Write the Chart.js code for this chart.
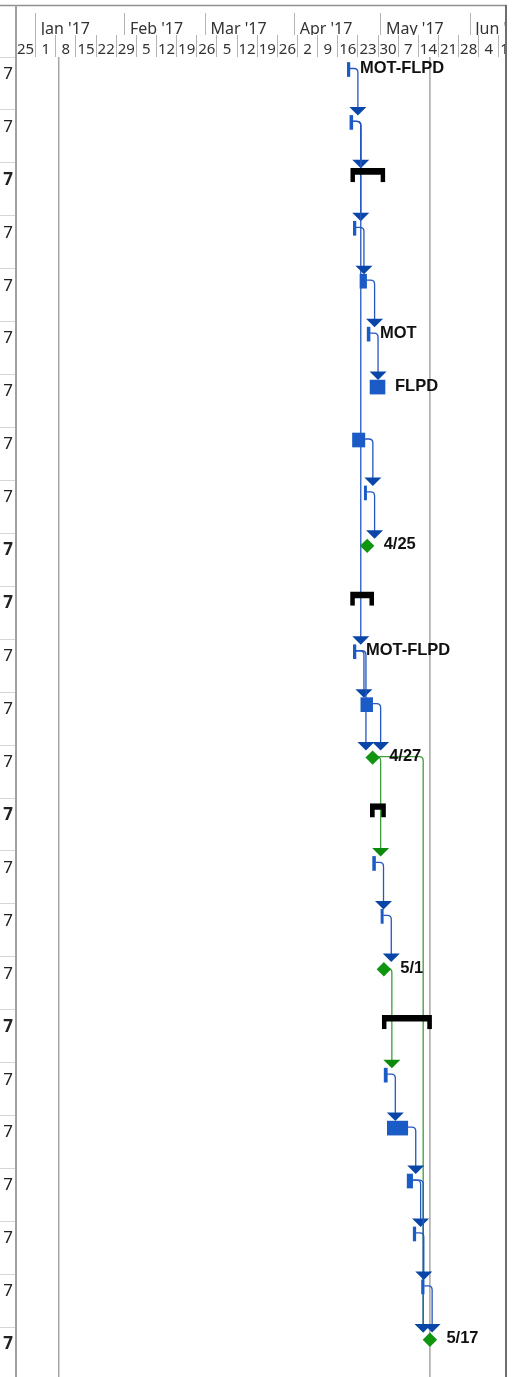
<!DOCTYPE html>
<html>
<head>
<meta charset="utf-8">
<script src="https://cdn.jsdelivr.net/npm/chart.js@4.4.0/dist/chart.umd.min.js"></script>
<style>
  html, body { margin: 0; padding: 0; background: #fff; }
  canvas { display: block; }
</style>
</head>
<body>
<canvas id="ganttChart" width="519" height="1377"></canvas>
<script>
// all days are counted from Sun 1 Jan 2017 (day 0)
const weekDays = [-7, 0, 7, 14, 21, 28, 35, 42, 49, 56, 63, 70, 77, 84, 91, 98, 105, 112, 119, 126, 133, 140, 147, 154, 161];
const weekLabels = ['25', '1', '8', '15', '22', '29', '5', '12', '19', '26', '5', '12', '19', '26', '2', '9', '16', '23', '30', '7', '14', '21', '28', '4', '11'];
const monthDays = [0, 31, 59, 90, 120, 151];
const monthLabels = ["Jan '17", "Feb '17", "Mar '17", "Apr '17", "May '17", "Jun '17"];

// cut-off finish column on the left
const rowTail = ['7', '7', '7', '7', '7', '7', '7', '7', '7', '7', '7', '7', '7', '7', '7', '7', '7', '7', '7', '7', '7', '7', '7', '7', '7'];
const boldRows = [2, 9, 10, 14, 18, 24];

const taskRows   = [0, 1, 3, 4, 5, 6, 7, 8, 11, 12, 15, 16, 19, 20, 21, 22, 23];
const taskStart  = [108.3, 109.2, 110.4, 112.7, 115.2, 116.2, 110.1, 114.2, 110.4, 113.0, 117.1, 120.0, 121.1, 122.2, 129.1, 131.2, 134.1];
const taskFinish = [109.2, 110.2, 111.3, 115.0, 116.2, 121.4, 114.4, 115.0, 111.3, 117.1, 118.1, 120.8, 122.2, 129.3, 131.0, 132.1, 135.0];

const summaryRows   = [2, 10, 14, 18];
const summaryStart  = [109.45, 109.4, 116.3, 120.4];
const summaryFinish = [121.4, 117.5, 121.6, 137.6];

const milestoneRows = [9, 13, 17, 24];
const milestoneDay  = [115.2, 117.1, 121.0, 137.0];

const noteRows = [0, 5, 6, 9, 11, 13, 17, 24];
const noteText = ['MOT-FLPD', 'MOT', 'FLPD', '4/25', 'MOT-FLPD', '4/27', '5/1', '5/17'];

const blueLinks = [[0, 1], [1, 2], [1, 3], [1, 11], [3, 4], [4, 5], [5, 6], [7, 8], [8, 9],
                   [11, 12], [11, 13], [12, 13], [15, 16], [16, 17], [19, 20], [20, 21],
                   [21, 22], [21, 24], [22, 23], [23, 24]];
const greenLinks = [[13, 15], [13, 24], [17, 19]];

const markerDays = [8, 137];

// layout of the rows in pixels
const ROW_PX = 52.93;
const BAR_TOP_PX = 12.5;
const rowShift = BAR_TOP_PX / ROW_PX;
const DIAMOND = 7.2;

const taskData = taskRows.map((r, i) => ({ x: [taskStart[i], taskFinish[i]], y: r }));
const summaryData = summaryRows.map((r, i) => ({ x: [summaryStart[i], summaryFinish[i]], y: r }));
const milestoneData = milestoneRows.map((r, i) => ({ x: milestoneDay[i], y: r }));

function finishPx(xs, row) {
    let i = taskRows.indexOf(row);
    if (i >= 0) return xs.getPixelForValue(taskFinish[i]);
    i = milestoneRows.indexOf(row);
    if (i >= 0) return xs.getPixelForValue(milestoneDay[i]);
    i = summaryRows.indexOf(row);
    return xs.getPixelForValue(summaryFinish[i]);
}

function startPx(xs, row) {
    let i = taskRows.indexOf(row);
    if (i >= 0) return xs.getPixelForValue(taskStart[i]);
    i = milestoneRows.indexOf(row);
    if (i >= 0) return xs.getPixelForValue(milestoneDay[i]) - 6.7;
    i = summaryRows.indexOf(row);
    return xs.getPixelForValue(summaryStart[i]);
}

function topPx(ys, row) {
    const c = ys.getPixelForValue(row);
    return milestoneRows.includes(row) ? c - DIAMOND : c - 7;
}

function drawLink(ctx, xs, ys, link, lineColor, headColor) {
    const [from, to] = link;
    const x0 = finishPx(xs, from);
    const y0 = ys.getPixelForValue(from) - 1;
    const lx = Math.max(x0 + 8, startPx(xs, to));
    const yTip = topPx(ys, to);
    const r = 4;
    ctx.strokeStyle = lineColor;
    ctx.lineWidth = 1.3;
    ctx.beginPath();
    ctx.moveTo(x0, y0);
    ctx.lineTo(lx - r, y0);
    ctx.quadraticCurveTo(lx, y0, lx, y0 + r);
    ctx.lineTo(lx, yTip - 6);
    ctx.stroke();
    ctx.fillStyle = headColor;
    ctx.beginPath();
    ctx.moveTo(lx - 8.5, yTip - 8.5);
    ctx.lineTo(lx + 8.5, yTip - 8.5);
    ctx.lineTo(lx, yTip);
    ctx.closePath();
    ctx.fill();
}

// axis boxes must not reserve room for half labels
function noPad(s) {
    s.paddingTop = 0;
    s.paddingBottom = 0;
    s.paddingLeft = 0;
    s.paddingRight = 0;
}

const ganttDecor = {
    id: 'ganttDecor',
    beforeDatasetsDraw(chart) {
        const { ctx, chartArea, scales: { x, y } } = chart;
        ctx.save();
        ctx.strokeStyle = '#a6a6a6';
        ctx.lineWidth = 1.5;
        markerDays.forEach(d => {
            const px = x.getPixelForValue(d);
            ctx.beginPath();
            ctx.moveTo(px, chartArea.top);
            ctx.lineTo(px, chartArea.bottom);
            ctx.stroke();
        });
        greenLinks.forEach(l => drawLink(ctx, x, y, l, '#3c9e3c', '#0c8a0c'));
        blueLinks.forEach(l => drawLink(ctx, x, y, l, '#2557c0', '#0a46a8'));
        ctx.restore();
    },
    afterDatasetsDraw(chart) {
        const { ctx, scales: { x, y } } = chart;
        ctx.save();
        ctx.font = 'bold 16.5px "Liberation Sans", Arial, sans-serif';
        ctx.fillStyle = '#111';
        ctx.textBaseline = 'middle';
        ctx.textAlign = 'left';
        noteRows.forEach((r, i) => {
            const m = milestoneRows.indexOf(r);
            const px = m >= 0 ? x.getPixelForValue(milestoneDay[m]) + 16.5 : finishPx(x, r) + 10;
            ctx.fillText(noteText[i], px, y.getPixelForValue(r) - 1);
        });
        ctx.restore();
    },
    afterDraw(chart) {
        const { ctx, chartArea } = chart;
        ctx.save();
        ctx.fillStyle = '#fff';
        ctx.fillRect(chartArea.right, 0, chart.width - chartArea.right, chartArea.top);
        ctx.strokeStyle = '#909090';
        ctx.lineWidth = 1.5;
        ctx.beginPath();
        ctx.moveTo(0, 5.5);
        ctx.lineTo(chartArea.right, 5.5);
        ctx.stroke();
        ctx.strokeStyle = '#a0a0a0';
        ctx.lineWidth = 2;
        ctx.beginPath();
        ctx.moveTo(chartArea.left, 5);
        ctx.lineTo(chartArea.left, chart.height);
        ctx.stroke();
        ctx.strokeStyle = '#6e6e6e';
        ctx.beginPath();
        ctx.moveTo(chartArea.right - 1, 5);
        ctx.lineTo(chartArea.right - 1, chart.height);
        ctx.stroke();
        ctx.restore();
    }
};

const headerFont = 'Noto Sans';

new Chart(document.getElementById('ganttChart').getContext('2d'), {
    type: 'bar',
    data: {
        datasets: [
            {
                label: 'Summary',
                data: summaryData,
                backgroundColor: 'rgba(0,0,0,0)',
                borderColor: '#000',
                borderWidth: { top: 6, left: 4, right: 4, bottom: 0 },
                borderSkipped: false,
                barThickness: 14,
                grouped: false
            },
            {
                label: 'Tasks',
                data: taskData,
                backgroundColor: '#1b5bc5',
                borderWidth: 0,
                barThickness: 14,
                grouped: false
            },
            {
                type: 'scatter',
                label: 'Milestones',
                data: milestoneData,
                pointStyle: 'rectRot',
                pointRadius: DIAMOND,
                backgroundColor: '#0f950f',
                borderWidth: 0
            }
        ]
    },
    options: {
        indexAxis: 'y',
        responsive: false,
        animation: false,
        devicePixelRatio: 1,
        events: [],
        layout: { autoPadding: false, padding: { top: 5, right: 12, left: 0, bottom: 0 } },
        plugins: {
            legend: { display: false },
            tooltip: { enabled: false }
        },
        scales: {
            x: {
                type: 'linear',
                position: 'top',
                offset: false,
                min: -6.85,
                max: 163.8,
                weight: 0,
                afterBuildTicks: (s) => { s.ticks = weekDays.map(v => ({ value: v })); },
                afterFit: (s) => { s.height = 22; noPad(s); },
                grid: { drawOnChartArea: false, offset: false, tickLength: 22, color: '#b4b4b4' },
                border: { display: false },
                ticks: {
                    autoSkip: false,
                    maxRotation: 0,
                    minRotation: 0,
                    labelOffset: 10,
                    padding: -23.5,
                    color: '#333',
                    font: { family: headerFont, size: 15 },
                    callback: (v, i) => weekLabels[i]
                }
            },
            xMonth: {
                type: 'linear',
                position: 'top',
                offset: false,
                min: -6.85,
                max: 163.8,
                weight: 1,
                afterBuildTicks: (s) => { s.ticks = monthDays.map(v => ({ value: v })); },
                afterFit: (s) => { s.height = 30; noPad(s); },
                grid: { drawOnChartArea: false, offset: false, tickLength: 22, color: '#b4b4b4' },
                border: { display: false },
                ticks: {
                    autoSkip: false,
                    maxRotation: 0,
                    minRotation: 0,
                    align: 'start',
                    labelOffset: 5,
                    padding: -25.6,
                    color: '#333',
                    font: { family: headerFont, size: 16 },
                    callback: (v, i) => monthLabels[i]
                }
            },
            y: {
                type: 'linear',
                reverse: true,
                offset: false,
                min: -rowShift,
                max: (1377 - 57) / ROW_PX - rowShift,
                afterBuildTicks: (s) => { s.ticks = rowTail.map((t, i) => ({ value: i - rowShift })); },
                afterFit: (s) => { s.width = 16; noPad(s); },
                grid: { drawOnChartArea: false, offset: false, tickLength: 16, color: '#d6d6d6' },
                border: { display: false },
                ticks: {
                    autoSkip: false,
                    padding: -13,
                    labelOffset: 17,
                    color: '#222',
                    font: (c) => ({ family: headerFont, size: 17, weight: boldRows.includes(c.index) ? 'bold' : 'normal' }),
                    callback: (v, i) => rowTail[i]
                }
            }
        }
    },
    plugins: [ganttDecor]
});
</script>
</body>
</html>
